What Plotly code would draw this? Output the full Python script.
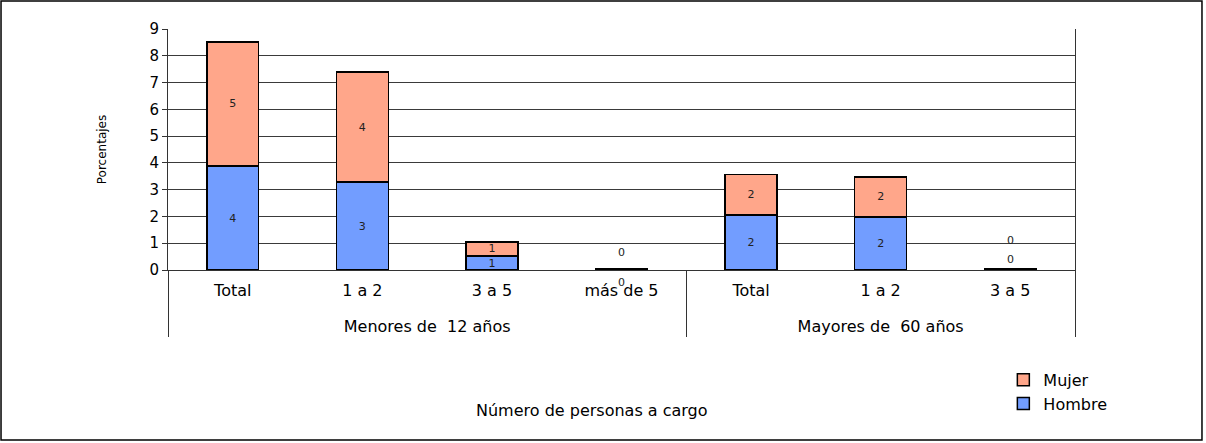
import plotly.graph_objects as go

# chart data
grupos = ["Menores de  12 años"] * 4 + ["Mayores de  60 años"] * 3
subcats = ["Total", "1 a 2", "3 a 5", "más de 5", "Total", "1 a 2", "3 a 5"]
hombre = [3.88, 3.28, 0.52, 0.03, 2.05, 1.98, 0.03]
mujer = [4.64, 4.11, 0.53, 0.03, 1.52, 1.50, 0.03]

def etiquetas(vals):
    # tiny bars get their labels as annotations further down
    return [str(int(round(v))) if v >= 0.3 else "" for v in vals]

# extra line break pushes the group row down like in the original
grupos_txt = ["<br>" + g for g in grupos]

fig = go.Figure()
fig.add_trace(go.Bar(
    x=[grupos_txt, subcats], y=hombre, name="Hombre",
    marker=dict(color="#729dff", line=dict(color="black", width=1.5)),
    text=etiquetas(hombre), textposition="inside", insidetextanchor="middle",
    textangle=0, textfont=dict(size=11, color="#222"),
))
fig.add_trace(go.Bar(
    x=[grupos_txt, subcats], y=mujer, name="Mujer",
    marker=dict(color="#ffa68a", line=dict(color="black", width=1.5)),
    text=etiquetas(mujer), textposition="inside", insidetextanchor="middle",
    textangle=0, textfont=dict(size=11, color="#222"),
))

# labels for the near-zero bars
for i in range(len(subcats)):
    if hombre[i] < 0.3:
        tot = hombre[i] + mujer[i]
        if subcats[i] == "más de 5":
            shifts = (-14, 16)
        else:
            shifts = (9, 28)
        fig.add_annotation(x=i, y=tot, text=str(int(round(hombre[i]))), showarrow=False,
                           yshift=shifts[0], font=dict(size=11, color="#222"), xref="x", yref="y")
        fig.add_annotation(x=i, y=tot, text=str(int(round(mujer[i]))), showarrow=False,
                           yshift=shifts[1], font=dict(size=11, color="#222"), xref="x", yref="y")

fig.add_annotation(text="Número de personas a cargo", x=0.467, y=-0.631, xref="paper", yref="paper",
                   showarrow=False, font=dict(size=16, color="black"))

# outer frame
fig.add_shape(type="rect", xref="paper", yref="paper", x0=-0.1841, x1=1.140, y0=-0.705, y1=1.116,
              line=dict(color="black", width=1.5))

fig.update_layout(
    width=1206, height=443,
    margin=dict(l=168, r=131, t=29, b=173, autoexpand=False),
    barmode="stack", bargap=0.6,
    paper_bgcolor="white", plot_bgcolor="white",
    font=dict(family="DejaVu Sans, Arial", size=16, color="black"),
    legend=dict(x=0.921, y=-0.385, xanchor="left", yanchor="top", font=dict(size=16),
                traceorder="reversed", itemwidth=30, tracegroupgap=0),
    uniformtext=dict(minsize=10, mode="show"),
    showlegend=True,
)
fig.update_xaxes(
    type="multicategory", showline=True, linecolor="#333", linewidth=1,
    showdividers=True, dividercolor="#333", dividerwidth=1,
    tickfont=dict(size=16), mirror=False, automargin=False, ticklabelstandoff=6,
)
fig.update_yaxes(
    title=dict(text="Porcentajes", font=dict(size=12), standoff=40),
    range=[0, 9], dtick=1, showgrid=True, gridcolor="#3a3a3a", gridwidth=1,
    showline=True, linecolor="#333", linewidth=1, mirror=True,
    ticks="outside", ticklen=5, tickcolor="#333", tickfont=dict(size=15),
    zeroline=False, automargin=False,
)

# drop the default page margin so the chart sits at the window corner
fig.write_html("out.html", config={"displayModeBar": False},
               post_script="document.body.style.margin='0';")
